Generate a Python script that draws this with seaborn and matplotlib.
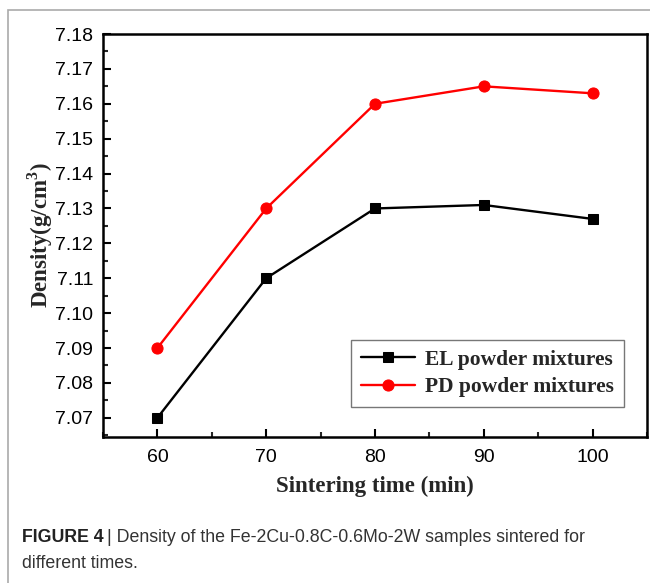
import matplotlib
matplotlib.use("Agg")
import matplotlib.pyplot as plt
import seaborn as sns
import numpy as np
from matplotlib.ticker import MultipleLocator, FixedLocator
from matplotlib.patches import Rectangle

times = [60, 70, 80, 90, 100]
el_density = [7.070, 7.110, 7.130, 7.131, 7.127]
pd_density = [7.090, 7.130, 7.160, 7.165, 7.163]
y_ticks = [7.07, 7.08, 7.09, 7.10, 7.11, 7.12, 7.13, 7.14, 7.15, 7.16, 7.17, 7.18]
x_ticks = [60, 70, 80, 90, 100]
labels = ["EL powder mixtures", "PD powder mixtures"]

sns.set_theme(style="ticks")
plt.rcParams['font.family'] = ['Liberation Sans', 'DejaVu Sans']
plt.rcParams['mathtext.fontset'] = 'custom'
plt.rcParams['mathtext.rm'] = 'Liberation Serif'
plt.rcParams['mathtext.bf'] = 'Liberation Serif:bold'

fig = plt.figure(figsize=(6.5, 5.83), dpi=100)
ax = fig.add_axes([103/650, 1-437/583, (647-103)/650, (437-34)/583])

sns.lineplot(x=times, y=el_density, ax=ax, color='black', marker='s', markersize=6.5,
             markeredgecolor='black', linewidth=1.7, label=labels[0])
sns.lineplot(x=times, y=pd_density, ax=ax, color='#ff0000', marker='o', markersize=8,
             markeredgecolor='#ff0000', linewidth=1.7, label=labels[1])

ax.set_xlim(55, 105)
ax.set_ylim(7.0645, 7.18)
ax.xaxis.set_major_locator(FixedLocator(x_ticks))
ax.xaxis.set_minor_locator(MultipleLocator(5))
ax.yaxis.set_major_locator(FixedLocator(y_ticks))
ax.yaxis.set_minor_locator(MultipleLocator(0.005))
ax.set_yticklabels([f"{v:.2f}" for v in y_ticks])
ax.tick_params(which='major', direction='in', length=6, width=1.5, labelsize=14,
               colors='black')
ax.tick_params(axis='y', which='major', pad=7)
ax.tick_params(axis='x', which='major', pad=9)
ax.tick_params(which='minor', direction='in', length=3.5, width=1.5)
for s in ax.spines.values():
    s.set_linewidth(1.8)
    s.set_color('black')

ax.set_xlabel("Sintering time (min)", fontfamily='Liberation Serif', fontweight='bold',
              fontsize=16.5, labelpad=7)
ax.set_ylabel(r"Density(g/cm$^{\mathbf{3}}$)", fontfamily='Liberation Serif',
              fontweight='bold', fontsize=16.5, labelpad=0)

leg = ax.legend(loc='upper left', bbox_to_anchor=(351/650, 1-340/583),
                bbox_transform=fig.transFigure, fancybox=False, frameon=True,
                prop={'family': 'Liberation Serif', 'weight': 'bold', 'size': 15.5},
                handlelength=2.5, borderpad=0.45, labelspacing=0.35, handletextpad=0.5,
                borderaxespad=0)
leg.get_frame().set_edgecolor('#555555')
leg.get_frame().set_linewidth(1.0)

# outer border
fig.patches.append(Rectangle((8/650, -0.1), 1.2, 1-10/583+0.1, transform=fig.transFigure,
                             fill=False, edgecolor='#aaaaaa', linewidth=1.2))

renderer = fig.canvas.get_renderer()
t1 = fig.text(22/650, 1-537/583, "FIGURE 4", fontsize=12.8, fontweight='bold',
              color='#222222', va='center', ha='left')
bb = t1.get_window_extent(renderer)
x2 = (bb.x1 + 3) / fig.bbox.width
fig.text(x2, 1-537/583, "| Density of the Fe-2Cu-0.8C-0.6Mo-2W samples sintered for",
         fontsize=12.8, color='#333333', va='center', ha='left')
fig.text(22/650, 1-563/583, "different times.", fontsize=12.8, color='#333333',
         va='center', ha='left')

fig.savefig("out.png", dpi=100)
